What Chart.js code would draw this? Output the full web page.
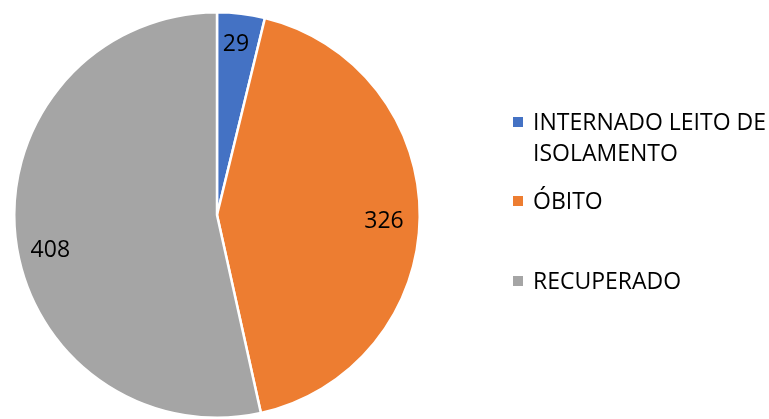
<!DOCTYPE html>
<html><head><meta charset="utf-8">
<script src="https://cdn.jsdelivr.net/npm/chart.js@4/dist/chart.umd.min.js"></script>
<style>html,body{margin:0;padding:0;background:#fff}#wrap{width:769px;height:419px}</style>
</head><body><div id="wrap"><canvas id="c"></canvas></div>
<script>
const categories = ["INTERNADO LEITO DE ISOLAMENTO", "ÓBITO", "RECUPERADO"];
const legendLines = [["INTERNADO LEITO DE", "ISOLAMENTO"], ["ÓBITO"], ["RECUPERADO"]];
const values = [29, 326, 408];
const colors = ["#4472C4", "#ED7D31", "#A5A5A5"];
const FONT = "'Open Sans', sans-serif";
// label placement within each slice: [angle fraction, radius fraction]
const labelPlace = [[0.46, 0.853], [0.509, 0.824], [0.471, 0.84]];

const labelPlugin = {
  id: 'labels',
  afterDraw(chart) {
    const ctx = chart.ctx;
    const meta = chart.getDatasetMeta(0);
    ctx.save();
    ctx.fillStyle = '#000';
    ctx.font = '23px ' + FONT;
    ctx.textAlign = 'center';
    ctx.textBaseline = 'middle';
    meta.data.forEach((arc, i) => {
      const p = arc.getProps(['x','y','startAngle','endAngle','outerRadius']);
      const a = p.startAngle + (p.endAngle - p.startAngle) * labelPlace[i][0];
      const r = p.outerRadius * labelPlace[i][1];
      ctx.fillText(String(values[i]), p.x + Math.cos(a) * r, p.y + Math.sin(a) * r + 1);
    });
    // legend
    ctx.textAlign = 'left';
    const ys = [[122, 153], [201], [281]];
    legendLines.forEach((lines, i) => {
      ctx.fillStyle = colors[i];
      ctx.fillRect(513, ys[i][0] - 5, 10, 10);
      ctx.fillStyle = '#000';
      lines.forEach((t, j) => ctx.fillText(t, 533, ys[i][j] + 1));
    });
    ctx.restore();
  }
};

new Chart(document.getElementById('c'), {
  type: 'pie',
  data: {
    labels: categories,
    datasets: [{
      data: values,
      backgroundColor: colors,
      borderColor: '#fff',
      borderWidth: 2.5
    }]
  },
  options: {
    responsive: true,
    maintainAspectRatio: false,
    animation: false,
    layout: { padding: { left: 13, top: 11, right: 348, bottom: 0 } },
    plugins: { legend: { display: false }, tooltip: { enabled: false } }
  },
  plugins: [labelPlugin]
});
</script></body></html>
